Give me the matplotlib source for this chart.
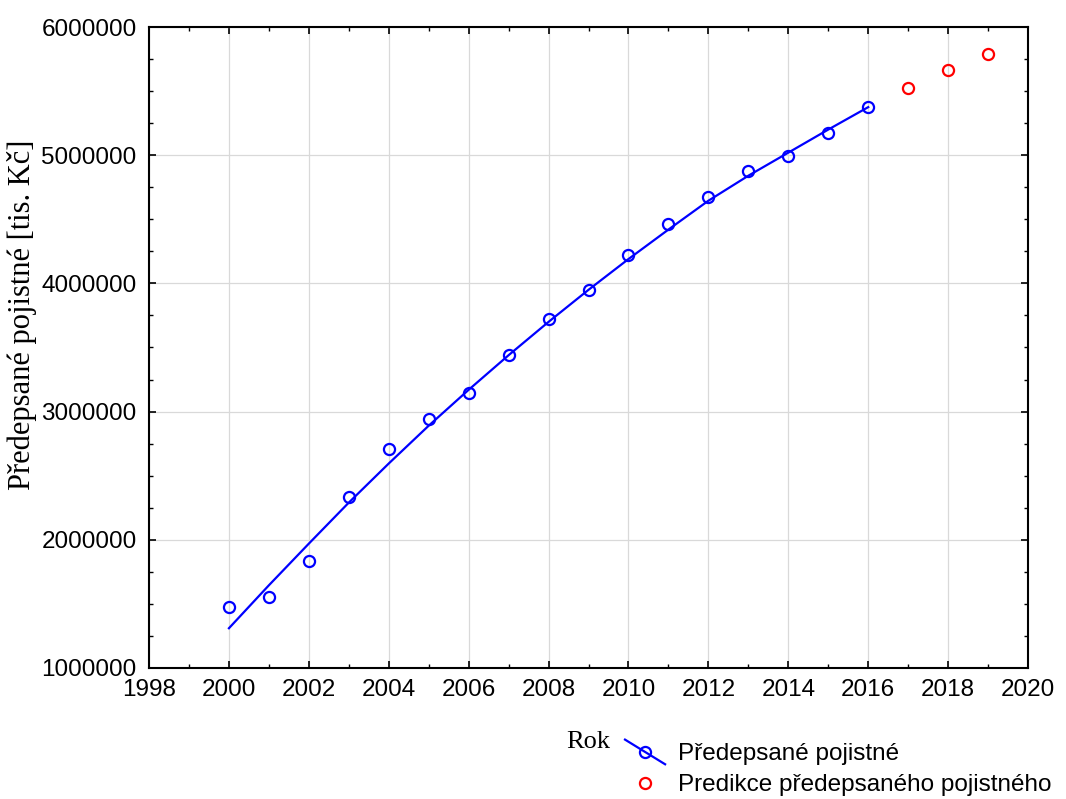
import numpy as np
import matplotlib
matplotlib.use("Agg")
import matplotlib.pyplot as plt
from matplotlib.lines import Line2D
from matplotlib.legend_handler import HandlerBase
from matplotlib.ticker import MultipleLocator, FuncFormatter

plt.rcParams["font.family"] = ["Liberation Sans", "DejaVu Sans"]

# observed premiums [tis. Kc]
years = [2000, 2001, 2002, 2003, 2004, 2005, 2006, 2007, 2008,
         2009, 2010, 2011, 2012, 2013, 2014, 2015, 2016]
premium = [1473500, 1551500, 1835000, 2334000, 2706000, 2942000, 3145000,
           3441000, 3720000, 3951000, 4219000, 4466000, 4672000, 4877000,
           4996000, 5171000, 5374000]
# fitted trend curve
trend = [1310000, 1645000, 1970000, 2290000, 2595000, 2890000, 3170000,
         3440000, 3700000, 3950000, 4190000, 4420000, 4645000, 4840000,
         5020000, 5200000, 5375000]
# predictions
pred_years = [2017, 2018, 2019]
pred_values = [5527000, 5667000, 5792000]

blue = "#0000ff"
red = "#ff0000"


class DiagHandler(HandlerBase):
    # diagonal line with a circle, like the original legend key
    def create_artists(self, legend, orig_handle, xdescent, ydescent,
                       width, height, fontsize, trans):
        x0, x1 = -xdescent, width - xdescent
        yc = height / 2 - ydescent
        ln = Line2D([x0, x1], [yc + 0.7 * height, yc - 0.75 * height],
                    color=blue, lw=1.6)
        mk = Line2D([(x0 + x1) / 2], [yc], marker="o", ls="none",
                    mfc="none", mec=blue, ms=8, mew=1.6)
        ln.set_transform(trans)
        mk.set_transform(trans)
        return [ln, mk]


fig = plt.figure(figsize=(10.66, 7.99), dpi=100)
ax = fig.add_axes([0.1398, 0.164, 0.8246, 0.8022])

ax.plot(years, trend, color=blue, lw=1.6, zorder=3)
ax.plot(years, premium, "o", ls="none", mfc="none", mec=blue, ms=8,
        mew=1.6, zorder=4)
ax.plot(pred_years, pred_values, "o", ls="none", mfc="none", mec=red,
        ms=8, mew=1.6, zorder=4)

ax.set_xlim(1998, 2020)
ax.set_ylim(1000000, 6000000)
ax.xaxis.set_major_locator(MultipleLocator(2))
ax.xaxis.set_minor_locator(MultipleLocator(1))
ax.yaxis.set_major_locator(MultipleLocator(1000000))
ax.yaxis.set_minor_locator(MultipleLocator(250000))
ax.yaxis.set_major_formatter(FuncFormatter(lambda v, p: f"{int(round(v))}"))

ax.grid(True, which="major", color="#d9d9d9", lw=0.9)
ax.set_axisbelow(True)
ax.tick_params(which="both", direction="in", top=True, right=True,
               labelsize=17.5, colors="black")
ax.tick_params(which="major", length=5, width=1.2)
ax.tick_params(axis="y", which="major", pad=9)
ax.tick_params(axis="x", which="major", pad=8)
ax.tick_params(which="minor", length=3, width=1.0)
for s in ax.spines.values():
    s.set_linewidth(1.5)

fig.text(22 / 1066, 1 - 315 / 799, "Předepsané pojistné [tis. Kč]",
         family="Liberation Serif", fontsize=22, rotation=90,
         ha="center", va="center")

fig.text(588 / 1066, 1 - 742 / 799, "Rok", family="Liberation Serif",
         fontsize=19, ha="center", va="center")

h1 = Line2D([], [], color=blue)
h2 = Line2D([], [], marker="o", ls="none", mfc="none", mec=red, ms=8,
            mew=1.6)
fig.legend([h1, h2], ["Předepsané pojistné", "Predikce předepsaného pojistného"],
           handler_map={h1: DiagHandler()},
           loc="upper left", bbox_to_anchor=(625 / 1066, 1 - 743 / 799),
           frameon=False, fontsize=17.5, handlelength=1.65, handletextpad=0.53,
           labelspacing=0.38, borderpad=0, borderaxespad=0)

fig.savefig("out.png", dpi=100)
